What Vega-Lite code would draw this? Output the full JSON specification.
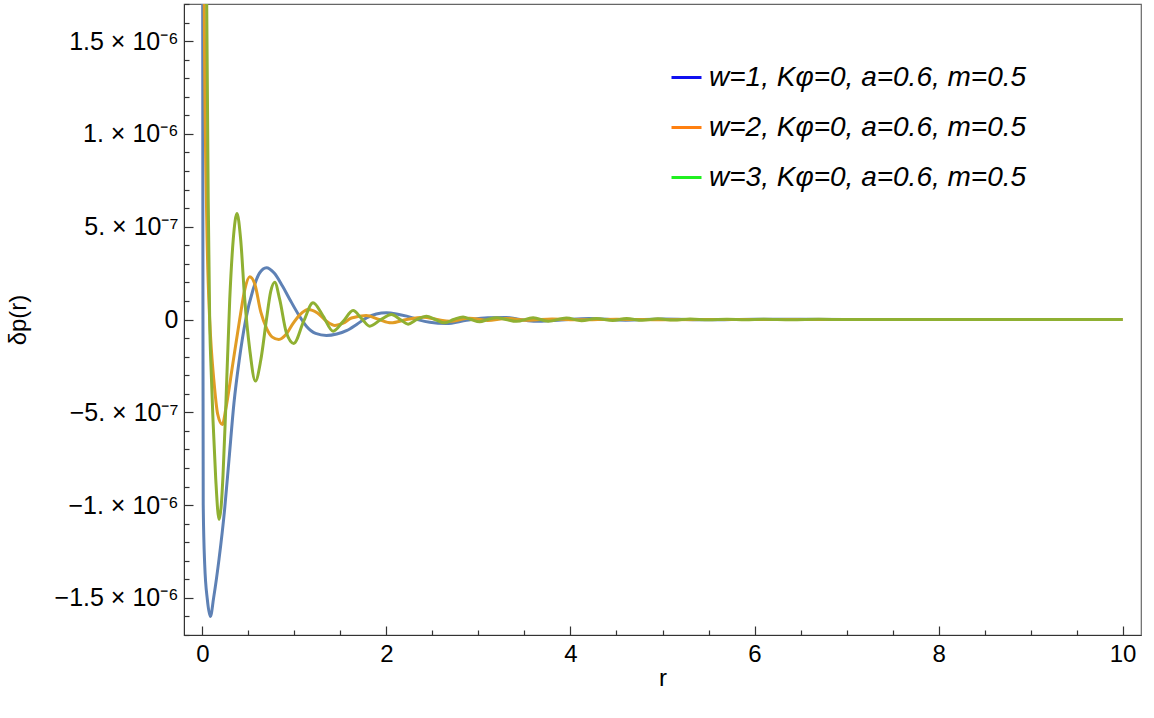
{
  "$schema": "https://vega.github.io/schema/vega-lite/v6.json",
  "width": 957,
  "height": 631,
  "autosize": {"type": "none"},
  "padding": {"left": 184, "top": 4, "right": 13, "bottom": 83},
  "background": "white",
  "config": {
    "view": {"stroke": "#666666", "strokeWidth": 1.2},
    "font": "Liberation Sans",
    "axis": {"labelFont": "Liberation Sans", "titleFont": "Liberation Sans", "labelColor": "#000000", "titleColor": "#000000", "titleFontWeight": "normal", "domainColor": "#333333", "tickColor": "#333333", "tickWidth": 1.2, "grid": false, "labelOverlap": false, "labelBound": false, "labelFlush": false}
  },
  "datasets": {
    "curves": [
      {"r": 0.000, "y": 4.0e-6, "s": "w=1, Kφ=0, a=0.6, m=0.5"},
      {"r": 0.003, "y": 1.7e-6, "s": "w=1, Kφ=0, a=0.6, m=0.5"},
      {"r": 0.006, "y": 0, "s": "w=1, Kφ=0, a=0.6, m=0.5"},
      {"r": 0.009, "y": -1.0e-6, "s": "w=1, Kφ=0, a=0.6, m=0.5"},
      {"r": 0.025, "y": -1.32e-6, "s": "w=1, Kφ=0, a=0.6, m=0.5"},
      {"r": 0.054, "y": -1.51e-6, "s": "w=1, Kφ=0, a=0.6, m=0.5"},
      {"r": 0.087, "y": -1.60e-6, "s": "w=1, Kφ=0, a=0.6, m=0.5"},
      {"r": 0.122, "y": -1.50e-6, "s": "w=1, Kφ=0, a=0.6, m=0.5"},
      {"r": 0.181, "y": -1.29e-6, "s": "w=1, Kφ=0, a=0.6, m=0.5"},
      {"r": 0.242, "y": -1.02e-6, "s": "w=1, Kφ=0, a=0.6, m=0.5"},
      {"r": 0.290, "y": -7.5e-7, "s": "w=1, Kφ=0, a=0.6, m=0.5"},
      {"r": 0.343, "y": -4.5e-7, "s": "w=1, Kφ=0, a=0.6, m=0.5"},
      {"r": 0.400, "y": -2.2e-7, "s": "w=1, Kφ=0, a=0.6, m=0.5"},
      {"r": 0.471, "y": 0, "s": "w=1, Kφ=0, a=0.6, m=0.5"},
      {"r": 0.550, "y": 1.6e-7, "s": "w=1, Kφ=0, a=0.6, m=0.5"},
      {"r": 0.620, "y": 2.5e-7, "s": "w=1, Kφ=0, a=0.6, m=0.5"},
      {"r": 0.696, "y": 2.79e-7, "s": "w=1, Kφ=0, a=0.6, m=0.5"},
      {"r": 0.780, "y": 2.5e-7, "s": "w=1, Kφ=0, a=0.6, m=0.5"},
      {"r": 0.870, "y": 1.8e-7, "s": "w=1, Kφ=0, a=0.6, m=0.5"},
      {"r": 0.950, "y": 1.08e-7, "s": "w=1, Kφ=0, a=0.6, m=0.5"},
      {"r": 1.040, "y": 3.0e-8, "s": "w=1, Kφ=0, a=0.6, m=0.5"},
      {"r": 1.130, "y": -3.6e-8, "s": "w=1, Kφ=0, a=0.6, m=0.5"},
      {"r": 1.230, "y": -7.5e-8, "s": "w=1, Kφ=0, a=0.6, m=0.5"},
      {"r": 1.348, "y": -8.6e-8, "s": "w=1, Kφ=0, a=0.6, m=0.5"},
      {"r": 1.460, "y": -7.8e-8, "s": "w=1, Kφ=0, a=0.6, m=0.5"},
      {"r": 1.565, "y": -6.0e-8, "s": "w=1, Kφ=0, a=0.6, m=0.5"},
      {"r": 1.680, "y": -2.5e-8, "s": "w=1, Kφ=0, a=0.6, m=0.5"},
      {"r": 1.783, "y": 9e-9, "s": "w=1, Kφ=0, a=0.6, m=0.5"},
      {"r": 1.890, "y": 3.0e-8, "s": "w=1, Kφ=0, a=0.6, m=0.5"},
      {"r": 2.000, "y": 3.6e-8, "s": "w=1, Kφ=0, a=0.6, m=0.5"},
      {"r": 2.110, "y": 3.0e-8, "s": "w=1, Kφ=0, a=0.6, m=0.5"},
      {"r": 2.220, "y": 1.8e-8, "s": "w=1, Kφ=0, a=0.6, m=0.5"},
      {"r": 2.350, "y": -2e-9, "s": "w=1, Kφ=0, a=0.6, m=0.5"},
      {"r": 2.470, "y": -1.5e-8, "s": "w=1, Kφ=0, a=0.6, m=0.5"},
      {"r": 2.650, "y": -2.2e-8, "s": "w=1, Kφ=0, a=0.6, m=0.5"},
      {"r": 2.870, "y": -4e-9, "s": "w=1, Kφ=0, a=0.6, m=0.5"},
      {"r": 3.100, "y": 1.0e-8, "s": "w=1, Kφ=0, a=0.6, m=0.5"},
      {"r": 3.300, "y": 1.1e-8, "s": "w=1, Kφ=0, a=0.6, m=0.5"},
      {"r": 3.600, "y": -1.0e-8, "s": "w=1, Kφ=0, a=0.6, m=0.5"},
      {"r": 3.900, "y": -3e-9, "s": "w=1, Kφ=0, a=0.6, m=0.5"},
      {"r": 4.200, "y": 6e-9, "s": "w=1, Kφ=0, a=0.6, m=0.5"},
      {"r": 4.600, "y": -4e-9, "s": "w=1, Kφ=0, a=0.6, m=0.5"},
      {"r": 5.000, "y": 3e-9, "s": "w=1, Kφ=0, a=0.6, m=0.5"},
      {"r": 5.500, "y": -2e-9, "s": "w=1, Kφ=0, a=0.6, m=0.5"},
      {"r": 6.000, "y": 1.5e-9, "s": "w=1, Kφ=0, a=0.6, m=0.5"},
      {"r": 7.000, "y": 0, "s": "w=1, Kφ=0, a=0.6, m=0.5"},
      {"r": 8.000, "y": 0, "s": "w=1, Kφ=0, a=0.6, m=0.5"},
      {"r": 10.00, "y": 0, "s": "w=1, Kφ=0, a=0.6, m=0.5"},

      {"r": 0.005, "y": 6.0e-6, "s": "w=2, Kφ=0, a=0.6, m=0.5"},
      {"r": 0.020, "y": 1.7e-6, "s": "w=2, Kφ=0, a=0.6, m=0.5"},
      {"r": 0.047, "y": 5.4e-7, "s": "w=2, Kφ=0, a=0.6, m=0.5"},
      {"r": 0.079, "y": 0, "s": "w=2, Kφ=0, a=0.6, m=0.5"},
      {"r": 0.100, "y": -1.8e-7, "s": "w=2, Kφ=0, a=0.6, m=0.5"},
      {"r": 0.123, "y": -3.2e-7, "s": "w=2, Kφ=0, a=0.6, m=0.5"},
      {"r": 0.166, "y": -5.1e-7, "s": "w=2, Kφ=0, a=0.6, m=0.5"},
      {"r": 0.217, "y": -5.66e-7, "s": "w=2, Kφ=0, a=0.6, m=0.5"},
      {"r": 0.253, "y": -4.85e-7, "s": "w=2, Kφ=0, a=0.6, m=0.5"},
      {"r": 0.330, "y": -2.4e-7, "s": "w=2, Kφ=0, a=0.6, m=0.5"},
      {"r": 0.405, "y": 0, "s": "w=2, Kφ=0, a=0.6, m=0.5"},
      {"r": 0.460, "y": 1.6e-7, "s": "w=2, Kφ=0, a=0.6, m=0.5"},
      {"r": 0.514, "y": 2.3e-7, "s": "w=2, Kφ=0, a=0.6, m=0.5"},
      {"r": 0.570, "y": 1.9e-7, "s": "w=2, Kφ=0, a=0.6, m=0.5"},
      {"r": 0.635, "y": 4.0e-8, "s": "w=2, Kφ=0, a=0.6, m=0.5"},
      {"r": 0.700, "y": -5.0e-8, "s": "w=2, Kφ=0, a=0.6, m=0.5"},
      {"r": 0.760, "y": -9.5e-8, "s": "w=2, Kφ=0, a=0.6, m=0.5"},
      {"r": 0.830, "y": -1.08e-7, "s": "w=2, Kφ=0, a=0.6, m=0.5"},
      {"r": 0.910, "y": -8.0e-8, "s": "w=2, Kφ=0, a=0.6, m=0.5"},
      {"r": 0.980, "y": -2.5e-8, "s": "w=2, Kφ=0, a=0.6, m=0.5"},
      {"r": 1.058, "y": 2.5e-8, "s": "w=2, Kφ=0, a=0.6, m=0.5"},
      {"r": 1.150, "y": 5.4e-8, "s": "w=2, Kφ=0, a=0.6, m=0.5"},
      {"r": 1.250, "y": 3.5e-8, "s": "w=2, Kφ=0, a=0.6, m=0.5"},
      {"r": 1.350, "y": -1.0e-8, "s": "w=2, Kφ=0, a=0.6, m=0.5"},
      {"r": 1.440, "y": -3.2e-8, "s": "w=2, Kφ=0, a=0.6, m=0.5"},
      {"r": 1.530, "y": -2.0e-8, "s": "w=2, Kφ=0, a=0.6, m=0.5"},
      {"r": 1.620, "y": 8e-9, "s": "w=2, Kφ=0, a=0.6, m=0.5"},
      {"r": 1.780, "y": 2.2e-8, "s": "w=2, Kφ=0, a=0.6, m=0.5"},
      {"r": 1.920, "y": 0, "s": "w=2, Kφ=0, a=0.6, m=0.5"},
      {"r": 2.050, "y": -1.8e-8, "s": "w=2, Kφ=0, a=0.6, m=0.5"},
      {"r": 2.220, "y": 0, "s": "w=2, Kφ=0, a=0.6, m=0.5"},
      {"r": 2.400, "y": 1.2e-8, "s": "w=2, Kφ=0, a=0.6, m=0.5"},
      {"r": 2.550, "y": 0, "s": "w=2, Kφ=0, a=0.6, m=0.5"},
      {"r": 2.690, "y": -9e-9, "s": "w=2, Kφ=0, a=0.6, m=0.5"},
      {"r": 2.900, "y": 7e-9, "s": "w=2, Kφ=0, a=0.6, m=0.5"},
      {"r": 3.100, "y": -5e-9, "s": "w=2, Kφ=0, a=0.6, m=0.5"},
      {"r": 3.300, "y": 5e-9, "s": "w=2, Kφ=0, a=0.6, m=0.5"},
      {"r": 3.550, "y": -4e-9, "s": "w=2, Kφ=0, a=0.6, m=0.5"},
      {"r": 3.800, "y": 3e-9, "s": "w=2, Kφ=0, a=0.6, m=0.5"},
      {"r": 4.100, "y": -2e-9, "s": "w=2, Kφ=0, a=0.6, m=0.5"},
      {"r": 4.500, "y": 2e-9, "s": "w=2, Kφ=0, a=0.6, m=0.5"},
      {"r": 5.000, "y": -1e-9, "s": "w=2, Kφ=0, a=0.6, m=0.5"},
      {"r": 6.000, "y": 0, "s": "w=2, Kφ=0, a=0.6, m=0.5"},
      {"r": 10.00, "y": 0, "s": "w=2, Kφ=0, a=0.6, m=0.5"},

      {"r": 0.010, "y": 6.0e-6, "s": "w=3, Kφ=0, a=0.6, m=0.5"},
      {"r": 0.047, "y": 1.7e-6, "s": "w=3, Kφ=0, a=0.6, m=0.5"},
      {"r": 0.063, "y": 6.5e-7, "s": "w=3, Kφ=0, a=0.6, m=0.5"},
      {"r": 0.079, "y": 0, "s": "w=3, Kφ=0, a=0.6, m=0.5"},
      {"r": 0.097, "y": -3.0e-7, "s": "w=3, Kφ=0, a=0.6, m=0.5"},
      {"r": 0.115, "y": -5.4e-7, "s": "w=3, Kφ=0, a=0.6, m=0.5"},
      {"r": 0.145, "y": -8.6e-7, "s": "w=3, Kφ=0, a=0.6, m=0.5"},
      {"r": 0.181, "y": -1.078e-6, "s": "w=3, Kφ=0, a=0.6, m=0.5"},
      {"r": 0.205, "y": -1.0e-6, "s": "w=3, Kφ=0, a=0.6, m=0.5"},
      {"r": 0.224, "y": -8.4e-7, "s": "w=3, Kφ=0, a=0.6, m=0.5"},
      {"r": 0.253, "y": -4.85e-7, "s": "w=3, Kφ=0, a=0.6, m=0.5"},
      {"r": 0.297, "y": 1.08e-7, "s": "w=3, Kφ=0, a=0.6, m=0.5"},
      {"r": 0.335, "y": 4.3e-7, "s": "w=3, Kφ=0, a=0.6, m=0.5"},
      {"r": 0.376, "y": 5.71e-7, "s": "w=3, Kφ=0, a=0.6, m=0.5"},
      {"r": 0.416, "y": 4.3e-7, "s": "w=3, Kφ=0, a=0.6, m=0.5"},
      {"r": 0.460, "y": 1.08e-7, "s": "w=3, Kφ=0, a=0.6, m=0.5"},
      {"r": 0.514, "y": -1.6e-7, "s": "w=3, Kφ=0, a=0.6, m=0.5"},
      {"r": 0.576, "y": -3.32e-7, "s": "w=3, Kφ=0, a=0.6, m=0.5"},
      {"r": 0.634, "y": -2.2e-7, "s": "w=3, Kφ=0, a=0.6, m=0.5"},
      {"r": 0.696, "y": 0, "s": "w=3, Kφ=0, a=0.6, m=0.5"},
      {"r": 0.742, "y": 1.5e-7, "s": "w=3, Kφ=0, a=0.6, m=0.5"},
      {"r": 0.786, "y": 2.01e-7, "s": "w=3, Kφ=0, a=0.6, m=0.5"},
      {"r": 0.840, "y": 1.08e-7, "s": "w=3, Kφ=0, a=0.6, m=0.5"},
      {"r": 0.913, "y": -7.2e-8, "s": "w=3, Kφ=0, a=0.6, m=0.5"},
      {"r": 0.992, "y": -1.29e-7, "s": "w=3, Kφ=0, a=0.6, m=0.5"},
      {"r": 1.100, "y": -1.0e-8, "s": "w=3, Kφ=0, a=0.6, m=0.5"},
      {"r": 1.202, "y": 9.0e-8, "s": "w=3, Kφ=0, a=0.6, m=0.5"},
      {"r": 1.310, "y": 2.0e-8, "s": "w=3, Kφ=0, a=0.6, m=0.5"},
      {"r": 1.420, "y": -6.3e-8, "s": "w=3, Kφ=0, a=0.6, m=0.5"},
      {"r": 1.530, "y": -1.0e-8, "s": "w=3, Kφ=0, a=0.6, m=0.5"},
      {"r": 1.637, "y": 4.8e-8, "s": "w=3, Kφ=0, a=0.6, m=0.5"},
      {"r": 1.730, "y": 5e-9, "s": "w=3, Kφ=0, a=0.6, m=0.5"},
      {"r": 1.818, "y": -3.6e-8, "s": "w=3, Kφ=0, a=0.6, m=0.5"},
      {"r": 1.940, "y": 0, "s": "w=3, Kφ=0, a=0.6, m=0.5"},
      {"r": 2.054, "y": 2.7e-8, "s": "w=3, Kφ=0, a=0.6, m=0.5"},
      {"r": 2.150, "y": 0, "s": "w=3, Kφ=0, a=0.6, m=0.5"},
      {"r": 2.235, "y": -2.5e-8, "s": "w=3, Kφ=0, a=0.6, m=0.5"},
      {"r": 2.330, "y": 0, "s": "w=3, Kφ=0, a=0.6, m=0.5"},
      {"r": 2.435, "y": 1.8e-8, "s": "w=3, Kφ=0, a=0.6, m=0.5"},
      {"r": 2.530, "y": 0, "s": "w=3, Kφ=0, a=0.6, m=0.5"},
      {"r": 2.634, "y": -1.8e-8, "s": "w=3, Kφ=0, a=0.6, m=0.5"},
      {"r": 2.730, "y": 0, "s": "w=3, Kφ=0, a=0.6, m=0.5"},
      {"r": 2.833, "y": 1.4e-8, "s": "w=3, Kφ=0, a=0.6, m=0.5"},
      {"r": 2.920, "y": 0, "s": "w=3, Kφ=0, a=0.6, m=0.5"},
      {"r": 3.014, "y": -1.2e-8, "s": "w=3, Kφ=0, a=0.6, m=0.5"},
      {"r": 3.100, "y": 0, "s": "w=3, Kφ=0, a=0.6, m=0.5"},
      {"r": 3.196, "y": 1.0e-8, "s": "w=3, Kφ=0, a=0.6, m=0.5"},
      {"r": 3.300, "y": 0, "s": "w=3, Kφ=0, a=0.6, m=0.5"},
      {"r": 3.413, "y": -1.0e-8, "s": "w=3, Kφ=0, a=0.6, m=0.5"},
      {"r": 3.594, "y": 9e-9, "s": "w=3, Kφ=0, a=0.6, m=0.5"},
      {"r": 3.757, "y": -9e-9, "s": "w=3, Kφ=0, a=0.6, m=0.5"},
      {"r": 3.955, "y": 8e-9, "s": "w=3, Kφ=0, a=0.6, m=0.5"},
      {"r": 4.120, "y": -7e-9, "s": "w=3, Kφ=0, a=0.6, m=0.5"},
      {"r": 4.280, "y": 6e-9, "s": "w=3, Kφ=0, a=0.6, m=0.5"},
      {"r": 4.460, "y": -5e-9, "s": "w=3, Kφ=0, a=0.6, m=0.5"},
      {"r": 4.610, "y": 5e-9, "s": "w=3, Kφ=0, a=0.6, m=0.5"},
      {"r": 4.780, "y": -4e-9, "s": "w=3, Kφ=0, a=0.6, m=0.5"},
      {"r": 4.950, "y": 4e-9, "s": "w=3, Kφ=0, a=0.6, m=0.5"},
      {"r": 5.120, "y": -3e-9, "s": "w=3, Kφ=0, a=0.6, m=0.5"},
      {"r": 5.300, "y": 3e-9, "s": "w=3, Kφ=0, a=0.6, m=0.5"},
      {"r": 5.500, "y": -2e-9, "s": "w=3, Kφ=0, a=0.6, m=0.5"},
      {"r": 5.700, "y": 2e-9, "s": "w=3, Kφ=0, a=0.6, m=0.5"},
      {"r": 5.900, "y": -2e-9, "s": "w=3, Kφ=0, a=0.6, m=0.5"},
      {"r": 6.100, "y": 1.5e-9, "s": "w=3, Kφ=0, a=0.6, m=0.5"},
      {"r": 6.400, "y": -1e-9, "s": "w=3, Kφ=0, a=0.6, m=0.5"},
      {"r": 6.700, "y": 1e-9, "s": "w=3, Kφ=0, a=0.6, m=0.5"},
      {"r": 7.000, "y": -5e-10, "s": "w=3, Kφ=0, a=0.6, m=0.5"},
      {"r": 7.500, "y": 0, "s": "w=3, Kφ=0, a=0.6, m=0.5"},
      {"r": 10.00, "y": 0, "s": "w=3, Kφ=0, a=0.6, m=0.5"}
    ]
  },
  "data": {"name": "curves"},
  "resolve": {"axis": {"x": "independent", "y": "independent"}},
  "layer": [
    {
      "mark": {"type": "line", "clip": true, "strokeWidth": 3, "interpolate": "monotone"},
      "encoding": {
        "x": {
          "field": "r", "type": "quantitative",
          "scale": {"domain": [-0.2, 10.2], "nice": false, "zero": false},
          "axis": {
            "orient": "bottom",
            "title": "r", "titleFontSize": 24, "titlePadding": 0,
            "values": [0, 2, 4, 6, 8, 10],
            "format": "d",
            "labelFontSize": 24,
            "tickSize": -9,
            "labelPadding": 16
          }
        },
        "y": {
          "field": "y", "type": "quantitative",
          "scale": {"domain": [-1.7e-6, 1.7e-6], "nice": false, "zero": false},
          "axis": {
            "orient": "left",
            "title": "δp(r)", "titleFontSize": 24, "titlePadding": 24,
            "values": [-1.5e-6, -1.0e-6, -5e-7, 0, 5e-7, 1.0e-6, 1.5e-6],
            "labelExpr": "round(datum.value*1e7) == 15 ? '1.5 × 10⁻⁶' : round(datum.value*1e7) == 10 ? '1. × 10⁻⁶' : round(datum.value*1e7) == 5 ? '5. × 10⁻⁷' : round(datum.value*1e7) == 0 ? '0' : round(datum.value*1e7) == -5 ? '−5. × 10⁻⁷' : round(datum.value*1e7) == -10 ? '−1. × 10⁻⁶' : '−1.5 × 10⁻⁶'",
            "labelFontSize": 25,
            "tickSize": -9,
            "labelPadding": 15
          }
        },
        "stroke": {
          "field": "s", "type": "nominal",
          "scale": {"range": ["#5E81B5", "#E19C24", "#8FB032"]},
          "legend": null
        }
      }
    },
    {
      "mark": {"type": "line", "clip": true, "opacity": 0},
      "encoding": {
        "x": {
          "field": "r", "type": "quantitative",
          "axis": {"orient": "bottom", "title": null, "labels": false, "domain": false, "tickSize": -5,
            "values": [0.5, 1, 1.5, 2.5, 3, 3.5, 4.5, 5, 5.5, 6.5, 7, 7.5, 8.5, 9, 9.5]}
        },
        "y": {
          "field": "y", "type": "quantitative",
          "axis": {"orient": "left", "title": null, "labels": false, "domain": false, "tickSize": -5,
            "values": [-1.7e-6, -1.6e-6, -1.4e-6, -1.3e-6, -1.2e-6, -1.1e-6, -9e-7, -8e-7, -7e-7, -6e-7, -4e-7, -3e-7, -2e-7, -1e-7, 1e-7, 2e-7, 3e-7, 4e-7, 6e-7, 7e-7, 8e-7, 9e-7, 1.1e-6, 1.2e-6, 1.3e-6, 1.4e-6, 1.6e-6, 1.7e-6]}
        },
        "detail": {"field": "s", "type": "nominal"}
      }
    },
    {
      "mark": {"type": "line", "clip": true},
      "encoding": {
        "x": {"field": "r", "type": "quantitative", "axis": null},
        "y": {"datum": 1, "axis": null},
        "color": {
          "field": "s", "type": "nominal",
          "scale": {"domain": ["w=1, Kφ=0, a=0.6, m=0.5", "w=2, Kφ=0, a=0.6, m=0.5", "w=3, Kφ=0, a=0.6, m=0.5"], "range": ["#1010F0", "#FF8010", "#20F020"]},
          "legend": {
            "title": null, "orient": "none", "legendX": 486, "legendY": 57,
            "symbolType": "stroke", "symbolSize": 900, "symbolStrokeWidth": 3,
            "labelFont": "Liberation Sans", "labelFontStyle": "italic", "labelFontSize": 28, "labelColor": "#000000",
            "labelOffset": 6, "rowPadding": 19, "labelLimit": 600
          }
        }
      }
    }
  ]
}
